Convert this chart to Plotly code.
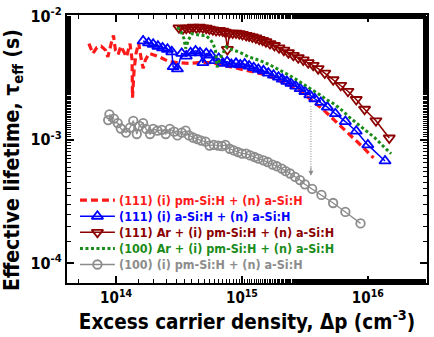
import math
import plotly.graph_objects as go

# ---- data ----
red_x = [6.08e13, 6.54e13, 7.04e13, 7.62e13, 8.24e13, 8.60e13, 9.14e13, 9.53e13, 9.88e13, 1.04e14,
         1.09e14, 1.16e14, 1.21e14, 1.29e14, 1.34e14, 1.35e14, 1.39e14, 1.44e14, 1.51e14, 1.58e14,
         1.64e14, 1.71e14, 1.83e14, 2.20e14, 2.64e14, 3.16e14, 3.79e14, 4.55e14, 5.62e14, 6.95e14,
         8.34e14, 1.0e15, 1.2e15, 1.44e15, 1.72e15, 2.07e15, 2.48e15, 2.98e15, 3.57e15, 4.03e15,
         4.55e15, 5.14e15, 5.80e15, 6.54e15, 7.38e15, 8.34e15, 9.42e15, 1.11e16]
red_y = [5.98e-3, 4.98e-3, 5.56e-3, 5.69e-3, 5.29e-3, 4.67e-3, 5.98e-3, 6.96e-3, 5.29e-3, 4.91e-3,
         5.69e-3, 5.13e-3, 4.67e-3, 5.98e-3, 4.41e-3, 2.18e-3, 3.66e-3, 4.98e-3, 6.05e-3, 4.54e-3,
         3.77e-3, 4.41e-3, 4.98e-3, 4.67e-3, 4.27e-3, 4.19e-3, 4.14e-3, 4.19e-3, 4.19e-3, 4.02e-3,
         3.85e-3, 3.66e-3, 3.55e-3, 3.40e-3, 3.20e-3, 2.96e-3, 2.70e-3, 2.42e-3, 2.11e-3, 1.89e-3,
         1.70e-3, 1.51e-3, 1.36e-3, 1.20e-3, 1.08e-3, 0.952e-3, 0.843e-3, 0.710e-3]

blue_x = [1.64e14, 1.81e14, 1.97e14, 2.15e14, 2.34e14, 2.56e14, 2.77e14, 2.84e14, 3.07e14, 3.32e14,
          3.61e14, 3.91e14, 4.28e14, 4.64e14, 4.89e14, 5.20e14, 5.66e14, 6.09e14, 6.54e14, 7.04e14,
          7.62e14, 8.24e14, 8.97e14, 9.7e14, 1.05e15, 1.14e15, 1.24e15, 1.35e15, 1.48e15, 1.62e15,
          1.78e15, 1.95e15, 2.09e15, 2.27e15, 2.45e15, 2.67e15, 2.90e15, 3.16e15, 3.46e15, 3.79e15,
          4.23e15, 4.77e15, 5.52e15, 6.63e15, 8.09e15, 1.0e16, 1.37e16]
blue_y = [6.28e-3, 6.05e-3, 5.90e-3, 5.69e-3, 5.52e-3, 5.38e-3, 5.13e-3, 3.89e-3, 3.73e-3, 4.98e-3,
          4.74e-3, 5.04e-3, 5.22e-3, 5.04e-3, 4.19e-3, 4.98e-3, 4.83e-3, 4.35e-3, 4.54e-3, 4.14e-3,
          4.27e-3, 4.06e-3, 4.14e-3, 4.02e-3, 4.09e-3, 3.94e-3, 3.82e-3, 3.70e-3, 3.60e-3, 3.45e-3,
          3.32e-3, 3.20e-3, 3.08e-3, 2.96e-3, 2.85e-3, 2.71e-3, 2.58e-3, 2.45e-3, 2.30e-3, 2.14e-3,
          2.00e-3, 1.83e-3, 1.62e-3, 1.40e-3, 1.17e-3, 0.906e-3, 0.672e-3]

dred_x = [3.16e14, 3.40e14, 3.61e14, 3.84e14, 4.08e14, 4.34e14, 4.60e14, 4.89e14, 5.20e14, 5.52e14,
          5.87e14, 6.23e14, 6.62e14, 7.04e14, 7.38e14, 7.66e14, 7.94e14, 8.44e14, 8.97e14, 9.53e14,
          1.01e15, 1.08e15, 1.14e15, 1.21e15, 1.29e15, 1.37e15, 1.46e15, 1.55e15, 1.67e15, 1.81e15,
          1.97e15, 2.15e15, 2.34e15, 2.56e15, 2.80e15, 3.07e15, 3.36e15, 3.68e15, 4.03e15, 4.55e15,
          5.30e15, 6.09e15, 6.95e15, 8.09e15, 9.42e15, 1.16e16, 1.48e16]
dred_y = [8.02e-3, 7.87e-3, 7.97e-3, 8.02e-3, 8.12e-3, 8.02e-3, 8.12e-3, 8.02e-3, 7.97e-3, 7.83e-3,
          7.73e-3, 7.64e-3, 7.64e-3, 7.55e-3, 7.41e-3, 5.36e-3, 7.28e-3, 7.28e-3, 7.28e-3, 7.18e-3,
          7.09e-3, 6.96e-3, 6.88e-3, 6.76e-3, 6.64e-3, 6.48e-3, 6.36e-3, 6.20e-3, 5.98e-3, 5.77e-3,
          5.52e-3, 5.29e-3, 5.04e-3, 4.80e-3, 4.60e-3, 4.41e-3, 4.19e-3, 3.99e-3, 3.75e-3, 3.45e-3,
          3.05e-3, 2.75e-3, 2.46e-3, 2.11e-3, 1.76e-3, 1.42e-3, 1.03e-3]

green_x = [3.07e14, 3.26e14, 3.46e14, 3.57e14, 3.75e14, 3.98e14, 4.34e14, 4.72e14, 5.14e14, 5.52e14,
           5.87e14, 6.15e14, 6.35e14, 6.62e14, 7.04e14, 7.48e14, 7.94e14, 8.60e14, 9.42e14, 1.03e15,
           1.13e15, 1.24e15, 1.40e15, 1.67e15, 2.01e15, 2.34e15, 2.72e15, 3.16e15, 3.57e15, 4.15e15,
           4.69e15, 5.45e15, 6.35e15, 7.16e15, 8.34e15, 9.71e15, 1.13e16, 1.31e16, 1.53e16]
green_y = [8.12e-3, 7.55e-3, 6.56e-3, 5.45e-3, 6.36e-3, 7.18e-3, 7.09e-3, 6.96e-3, 6.96e-3, 6.56e-3,
           6.05e-3, 5.29e-3, 3.85e-3, 4.41e-3, 4.98e-3, 5.62e-3, 5.42e-3, 5.29e-3, 5.13e-3, 4.91e-3,
           4.67e-3, 4.54e-3, 4.35e-3, 4.02e-3, 3.66e-3, 3.34e-3, 3.05e-3, 2.78e-3, 2.54e-3, 2.31e-3,
           2.11e-3, 1.93e-3, 1.70e-3, 1.51e-3, 1.33e-3, 1.18e-3, 1.04e-3, 0.895e-3, 0.769e-3]

gray_x = [8.85e13, 9.6e13, 8.65e13, 1.03e14, 1.09e14, 1.2e14, 1.29e14, 1.37e14, 1.46e14, 1.53e14,
          1.64e14, 1.73e14, 1.86e14, 1.97e14, 2.13e14, 2.31e14, 2.48e14, 2.67e14, 2.89e14, 3.07e14,
          3.32e14, 3.57e14, 3.79e14, 4.08e14, 4.42e14, 4.75e14, 5.14e14, 5.52e14, 5.97e14, 6.47e14,
          6.95e14, 7.38e14, 8.0e14, 8.6e14, 9.3e14, 1.0e15, 1.08e15, 1.16e15, 1.26e15, 1.35e15,
          1.48e15, 1.60e15, 1.75e15, 1.89e15, 2.07e15, 2.22e15, 2.41e15, 2.64e15, 2.89e15, 3.16e15,
          3.61e15, 4.28e15, 5.30e15, 6.63e15, 8.75e15]
gray_y = [1.60e-3, 1.48e-3, 1.44e-3, 1.36e-3, 1.23e-3, 1.14e-3, 1.25e-3, 1.42e-3, 1.11e-3, 1.29e-3,
          1.36e-3, 1.22e-3, 1.11e-3, 1.22e-3, 1.18e-3, 1.20e-3, 1.11e-3, 1.22e-3, 1.16e-3, 1.08e-3,
          1.14e-3, 1.18e-3, 1.08e-3, 1.04e-3, 1.01e-3, 0.98e-3, 0.964e-3, 0.895e-3, 0.906e-3, 0.895e-3,
          0.885e-3, 0.906e-3, 0.843e-3, 0.817e-3, 0.792e-3, 0.769e-3, 0.769e-3, 0.745e-3, 0.723e-3, 0.701e-3,
          0.680e-3, 0.659e-3, 0.628e-3, 0.609e-3, 0.583e-3, 0.555e-3, 0.532e-3, 0.500e-3, 0.471e-3, 0.435e-3,
          0.399e-3, 0.357e-3, 0.307e-3, 0.260e-3, 0.210e-3]

arrow_x = [3.53e15, 3.53e15]
arrow_y = [1.87e-3, 5.6e-4]

names = ["(111) (i) pm-Si:H + (n) a-Si:H",
         "(111) (i) a-Si:H + (n) a-Si:H",
         "(111) Ar + (i) pm-Si:H + (n) a-Si:H",
         "(100) Ar + (i) pm-Si:H + (n) a-Si:H",
         "(100) (i) pm-Si:H + (n) a-Si:H"]

RED = "#ff1a1a"
BLUE = "#0000ff"
DRED = "#8b0000"
GREEN = "#1a8c1a"
GRAY = "#8c8c8c"
COLORS = [RED, BLUE, DRED, GREEN, GRAY]

FONT = "DejaVu Sans Condensed, DejaVu Sans"

styles = [
    dict(mode="lines", line=dict(color=RED, width=3.2, dash="7px,4px")),
    dict(mode="lines+markers", line=dict(color=BLUE, width=1.5),
         marker=dict(symbol="triangle-up-open", size=10, color=BLUE, line=dict(width=1.8, color=BLUE))),
    dict(mode="lines+markers", line=dict(color=DRED, width=1.5),
         marker=dict(symbol="triangle-down-open", size=10, color=DRED, line=dict(width=1.8, color=DRED))),
    dict(mode="lines", line=dict(color=GREEN, width=3, dash="3px,2.5px")),
    dict(mode="lines+markers", line=dict(color=GRAY, width=1.3),
         marker=dict(symbol="circle-open", size=8.5, color=GRAY, line=dict(width=1.8, color=GRAY))),
]
series = [(red_x, red_y), (blue_x, blue_y), (dred_x, dred_y), (green_x, green_y), (gray_x, gray_y)]

fig = go.Figure()
for (sx, sy), st, n in zip(series, styles, names):
    fig.add_trace(go.Scatter(x=sx, y=sy, name=n, showlegend=False, **st))

fig.add_trace(go.Scatter(x=arrow_x, y=arrow_y, mode="lines", showlegend=False,
                         line=dict(color=GRAY, width=1, dash="1px,1.5px"), hoverinfo="skip"))
fig.add_annotation(x=math.log10(arrow_x[1]), y=math.log10(arrow_y[1]) - 0.04, xref="x", yref="y",
                   ax=0, ay=-10, showarrow=True, arrowhead=2, arrowsize=1, arrowwidth=1,
                   arrowcolor=GRAY, text="")

# ---- hand-built legend (symbols on an overlay axis, text as annotations) ----
leg_rows = [0.309, 0.249, 0.189, 0.129, 0.069]
lx0, lx1 = 0.036, 0.133
for i, (st, n, c, yy) in enumerate(zip(styles, names, COLORS, leg_rows)):
    st2 = {k: v for k, v in st.items() if k != "mode"}
    fig.add_trace(go.Scatter(x=[lx0, lx1], y=[yy, yy], mode="lines", xaxis="x2", yaxis="y2",
                             showlegend=False, hoverinfo="skip", line=st["line"]))
    if "marker" in st:
        fig.add_trace(go.Scatter(x=[(lx0 + lx1) / 2], y=[yy], mode="markers", xaxis="x2", yaxis="y2",
                                 showlegend=False, hoverinfo="skip", marker=st["marker"]))
    fig.add_annotation(x=lx1 + 0.006, y=yy, xref="paper", yref="paper", xanchor="left", yanchor="middle",
                       text=n, showarrow=False,
                       font=dict(size=12.5, family=FONT, color=c, weight="bold"))

# y-axis title as annotation (placed like the reference)
fig.add_annotation(x=-0.152, y=0.46, xref="paper", yref="paper", xanchor="center", yanchor="middle",
                   text="Effective lifetime, τ<sub>eff</sub> (s)", textangle=-90, showarrow=False,
                   font=dict(size=21, family=FONT, color="black", weight="bold"))

axis_common = dict(
    type="log", showgrid=False, zeroline=False, showline=True, linecolor="black", linewidth=2,
    mirror="allticks", ticks="inside", ticklen=7, tickwidth=1.5, tickcolor="black",
    minor=dict(ticks="inside", ticklen=4, tickwidth=1, tickcolor="black", showgrid=False),
)

fig.update_layout(
    width=434, height=337,
    margin=dict(l=67, r=5, t=11, b=54),
    plot_bgcolor="white", paper_bgcolor="white",
    font=dict(family=FONT, color="black", weight="bold"),
    showlegend=False,
    xaxis=dict(**axis_common, range=[13.61, 16.47],
               tickvals=[1e14, 1e15, 1e16],
               ticktext=["10<sup>14</sup>", "10<sup>15</sup>", "10<sup>16</sup>"],
               tickfont=dict(size=15, family=FONT, weight="bold"),
               title=dict(text="Excess carrier density, Δp (cm<sup>-3</sup>)",
                          font=dict(size=20.5, family=FONT, weight="bold"), standoff=4)),
    yaxis=dict(**axis_common, range=[-4.16, -1.992],
               tickvals=[1e-4, 1e-3, 1e-2],
               ticktext=["10<sup>-4</sup>", "10<sup>-3</sup>", "10<sup>-2</sup>"],
               tickfont=dict(size=16, family=FONT, weight="bold")),
    xaxis2=dict(overlaying="x", range=[0, 1], visible=False, anchor="y2"),
    yaxis2=dict(overlaying="y", range=[0, 1], visible=False, anchor="x2"),
)

fig.write_html("out.html")
